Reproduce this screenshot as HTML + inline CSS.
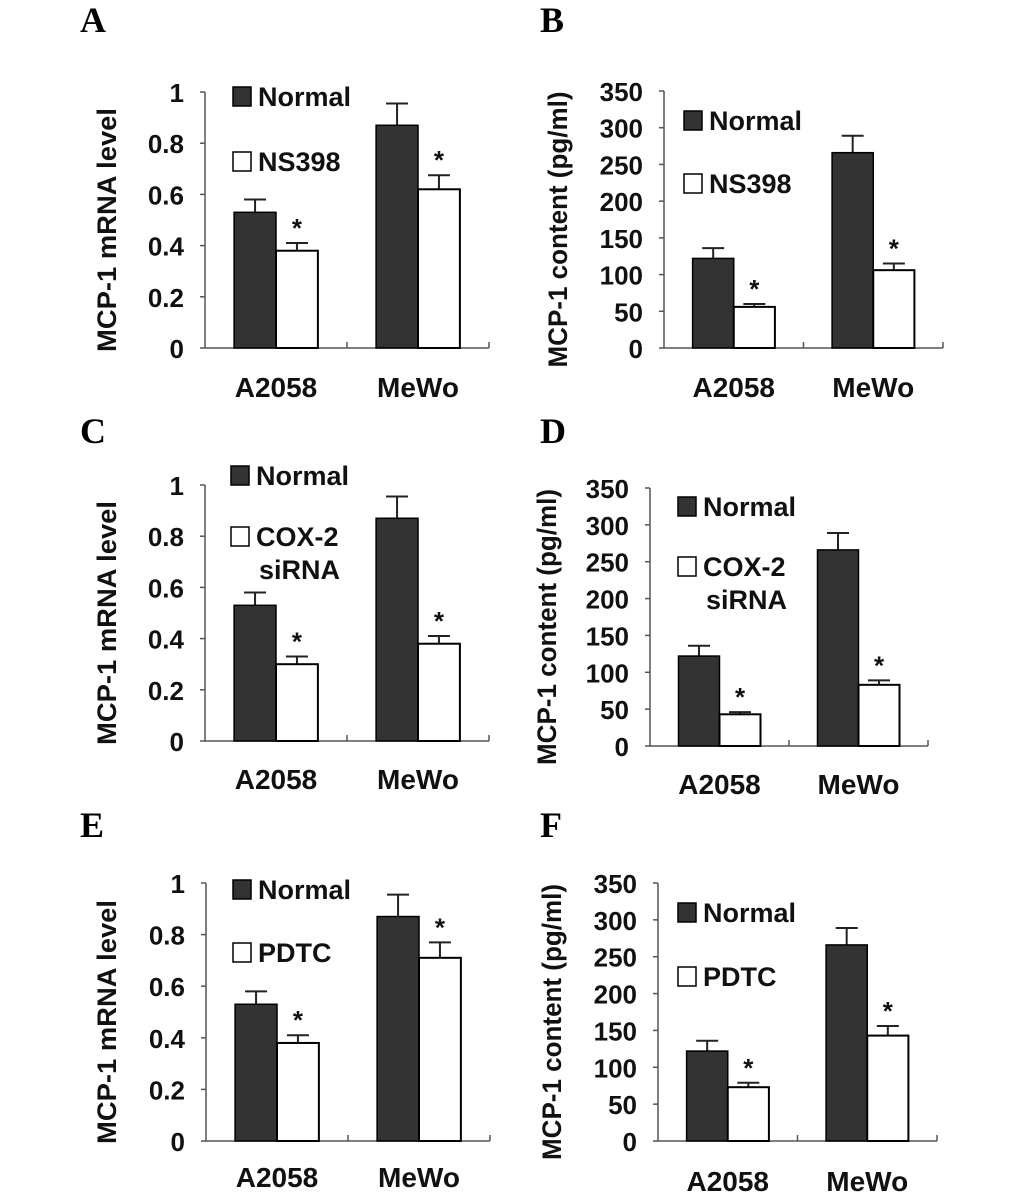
<!DOCTYPE html>
<html><head><meta charset="utf-8"><style>
html,body{margin:0;padding:0;background:#fff;}
svg{display:block;font-family:"Liberation Sans",Arial,sans-serif;font-weight:bold;}
</style></head><body>
<svg id="fig" width="1033" height="1199" viewBox="0 0 1033 1199" xmlns="http://www.w3.org/2000/svg"></svg>
<script>
const categories = ["A2058", "MeWo"];
const mrnaTicks = ["0", "0.2", "0.4", "0.6", "0.8", "1"];
const mrnaTickVals = [0, 0.2, 0.4, 0.6, 0.8, 1];
const contTicks = ["0", "50", "100", "150", "200", "250", "300", "350"];
const contTickVals = [0, 50, 100, 150, 200, 250, 300, 350];

const aNormal = [0.53, 0.87], aNormalErr = [0.05, 0.085];
const aTreat = [0.38, 0.62], aTreatErr = [0.03, 0.055];
const bNormal = [122, 266], bNormalErr = [14, 23];
const bTreat = [56, 106], bTreatErr = [4, 9];
const cNormal = [0.53, 0.87], cNormalErr = [0.05, 0.085];
const cTreat = [0.30, 0.38], cTreatErr = [0.03, 0.03];
const dNormal = [122, 266], dNormalErr = [14, 23];
const dTreat = [43, 83], dTreatErr = [3, 6];
const eNormal = [0.53, 0.87], eNormalErr = [0.05, 0.085];
const eTreat = [0.38, 0.71], eTreatErr = [0.03, 0.06];
const fNormal = [122, 266], fNormalErr = [14, 23];
const fTreat = [73, 143], fTreatErr = [6, 13];

const svg = document.getElementById('fig');
const NS = 'http://www.w3.org/2000/svg';
function mk(tag, attrs, parent, text) {
  const e = document.createElementNS(NS, tag);
  for (const k in attrs) e.setAttribute(k, attrs[k]);
  if (text !== undefined) e.textContent = text;
  (parent || svg).appendChild(e);
  return e;
}

const panels = [
  {id:'a', letter:'A', lx:80, ly:32, x0:205, x1:489, yTop:92, y0:348, max:1, ticks:mrnaTicks, tvals:mrnaTickVals,
   ylab:'MCP-1 mRNA level', ylx:116, ylen:244, normal:aNormal, nErr:aNormalErr, treat:aTreat, tErr:aTreatErr,
   leg:[233,87], leg2y:152, treatLabel:['NS398'], catY:397},
  {id:'b', letter:'B', lx:540, ly:32, x0:664, x1:943, yTop:91, y0:348, max:350, ticks:contTicks, tvals:contTickVals,
   ylab:'MCP-1 content (pg/ml)', ylx:567, ylen:276, normal:bNormal, nErr:bNormalErr, treat:bTreat, tErr:bTreatErr,
   leg:[684,111], leg2y:174, treatLabel:['NS398'], catY:397},
  {id:'c', letter:'C', lx:80, ly:443, x0:205, x1:489, yTop:485, y0:741, max:1, ticks:mrnaTicks, tvals:mrnaTickVals,
   ylab:'MCP-1 mRNA level', ylx:116, ylen:244, normal:cNormal, nErr:cNormalErr, treat:cTreat, tErr:cTreatErr,
   leg:[231,466], leg2y:527, treatLabel:['COX-2','siRNA'], catY:789},
  {id:'d', letter:'D', lx:540, ly:443, x0:650, x1:928, yTop:488, y0:746, max:350, ticks:contTicks, tvals:contTickVals,
   ylab:'MCP-1 content (pg/ml)', ylx:556, ylen:276, normal:dNormal, nErr:dNormalErr, treat:dTreat, tErr:dTreatErr,
   leg:[678,497], leg2y:557, treatLabel:['COX-2','siRNA'], catY:794},
  {id:'e', letter:'E', lx:80, ly:837, x0:206, x1:490, yTop:883, y0:1141, max:1, ticks:mrnaTicks, tvals:mrnaTickVals,
   ylab:'MCP-1 mRNA level', ylx:116, ylen:244, normal:eNormal, nErr:eNormalErr, treat:eTreat, tErr:eTreatErr,
   leg:[233,880], leg2y:943, treatLabel:['PDTC'], catY:1187},
  {id:'f', letter:'F', lx:540, ly:837, x0:658, x1:937, yTop:883, y0:1141, max:350, ticks:contTicks, tvals:contTickVals,
   ylab:'MCP-1 content (pg/ml)', ylx:561, ylen:276, normal:fNormal, nErr:fNormalErr, treat:fTreat, tErr:fTreatErr,
   leg:[678,903], leg2y:967, treatLabel:['PDTC'], catY:1191}
];

panels.forEach(p => {
  const g = mk('g', {});
  
  
  const y = v => p.y0 - (v / p.max) * (p.y0 - p.yTop);
  const band = (p.x1 - p.x0) / categories.length;
  const bw = band * 0.295;

  const letter = mk('text', {x:p.lx, y:p.ly, 'font-family':'"Liberation Serif",serif', 'font-size':36, fill:'#000'}, g, p.letter);
  
  

  const ax = mk('path', {d:`M${p.x0},${p.yTop} V${p.y0} H${p.x1}`, stroke:'#555', 'stroke-width':1.5, fill:'none'}, g);
  
  
  p.tvals.forEach((v, i) => {
    mk('line', {x1:p.x0 - 5, x2:p.x0, y1:y(v), y2:y(v), stroke:'#555', 'stroke-width':1.5}, g);
    const t = mk('text', {x:p.x0 - 21, y:y(v) + 10, 'text-anchor':'end', 'font-size':26, fill:'#111'}, g, p.ticks[i]);
    
    
  });
  for (let i = 1; i <= categories.length; i++) {
    mk('line', {x1:p.x0 + band * i, x2:p.x0 + band * i, y1:p.y0, y2:p.y0 - 6, stroke:'#555', 'stroke-width':1.5}, g);
  }
  const yl = mk('text', {x:0, y:0, transform:`translate(${p.ylx},${(p.yTop + p.y0) / 2 + 10}) rotate(-90)`, 'text-anchor':'middle', 'font-size':27, textLength:p.ylen, lengthAdjust:'spacingAndGlyphs', fill:'#111'}, g, p.ylab);
  
  

  categories.forEach((c, i) => {
    const cx = p.x0 + band * (i + 0.5);
    const ct = mk('text', {x:cx, y:p.catY, 'text-anchor':'middle', 'font-size':28, fill:'#111'}, g, c);
    
    
    const nTop = y(p.normal[i]);
    const eb1 = mk('path', {d:`M${cx - bw / 2},${nTop} V${y(p.normal[i] + p.nErr[i])} M${cx - bw / 2 - 11},${y(p.normal[i] + p.nErr[i])} H${cx - bw / 2 + 11}`, stroke:'#222', 'stroke-width':2, fill:'none'}, g);
    
    
    const b1 = mk('rect', {x:cx - bw, y:nTop, width:bw, height:p.y0 - nTop, fill:'#333', stroke:'#000', 'stroke-width':1.5}, g);
    
    
    const tTop = y(p.treat[i]);
    const eTop = y(p.treat[i] + p.tErr[i]);
    const eb2 = mk('path', {d:`M${cx + bw / 2},${tTop} V${eTop} M${cx + bw / 2 - 11},${eTop} H${cx + bw / 2 + 11}`, stroke:'#222', 'stroke-width':2, fill:'none'}, g);
    
    
    const b2 = mk('rect', {x:cx, y:tTop, width:bw, height:p.y0 - tTop, fill:'#fff', stroke:'#000', 'stroke-width':2}, g);
    
    
    const st = mk('text', {x:cx + bw / 2, y:eTop - 6, 'text-anchor':'middle', 'font-size':26, fill:'#111'}, g, '*');
    
    
  });

  const [lx, ly] = p.leg;
  const l1 = mk('g', {}, g);
  
  
  mk('rect', {x:lx, y:ly, width:18, height:19, fill:'#333', stroke:'#000', 'stroke-width':1.5}, l1);
  mk('text', {x:lx + 25, y:ly + 19, 'font-size':27, fill:'#111'}, l1, 'Normal');
  const l2 = mk('g', {}, g);
  
  
  mk('rect', {x:lx, y:p.leg2y, width:18, height:19, fill:'#fff', stroke:'#000', 'stroke-width':1.5}, l2);
  p.treatLabel.forEach((s, k) => {
    mk('text', {x:lx + 25 + (k ? 3 : 0), y:p.leg2y + 19 + k * 33, 'font-size':27, fill:'#111'}, l2, s);
  });
});
</script>
</body></html>
